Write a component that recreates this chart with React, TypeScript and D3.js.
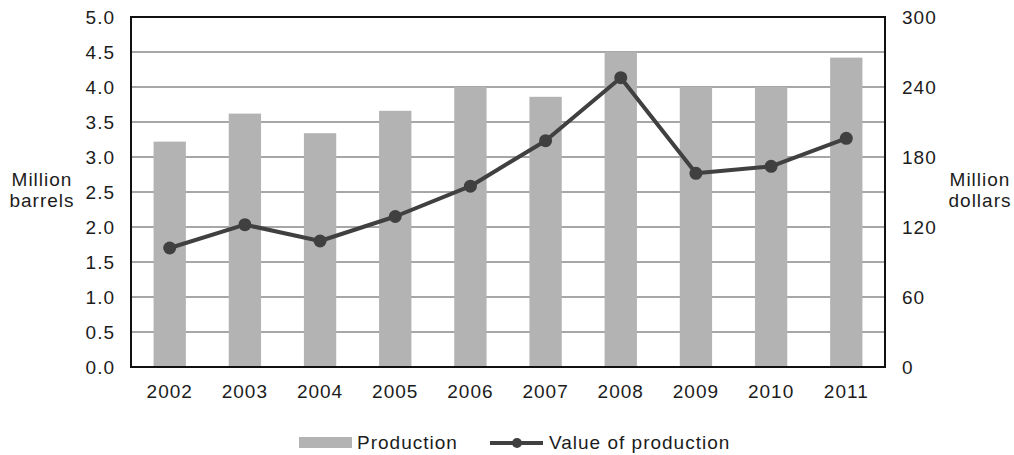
import React from "react";
import * as d3 from "d3";

const years = ["2002", "2003", "2004", "2005", "2006", "2007", "2008", "2009", "2010", "2011"];
const production = [3.22, 3.62, 3.34, 3.66, 4.0, 3.86, 4.5, 4.0, 4.0, 4.42];
const valueOfProduction = [102, 122, 108, 129, 155, 194, 248, 166, 172, 196];
const leftTicks = [0, 0.5, 1, 1.5, 2, 2.5, 3, 3.5, 4, 4.5, 5];
const rightTicks = [0, 60, 120, 180, 240, 300];

const W = 1014;
const H = 455;
const L = 131, R = 885, T = 17, B = 367;
const FONT = "'Liberation Sans', Arial, sans-serif";
const TXT = "#1c1c1c";

export default function App() {
  const x = d3.scaleBand<string>().domain(years).range([L, R]).paddingInner(0.57).paddingOuter(0.3);
  const yL = d3.scaleLinear().domain([0, 5]).range([B, T]);
  const yR = d3.scaleLinear().domain([0, 300]).range([B, T]);
  const cx = (y: string) => (x(y) as number) + x.bandwidth() / 2;
  const line = d3.line<number>().x((_, i) => cx(years[i])).y((d) => yR(d));
  const textStyle = { fontFamily: FONT, fontSize: 19, letterSpacing: 1, fill: TXT } as const;

  return (
    <svg width={W} height={H} style={{ position: "absolute", left: 0, top: 0, background: "#fff" }}>
      <rect x={0} y={0} width={W} height={H} fill="#fff" />
      {/* gridlines */}
      {leftTicks.slice(1, -1).map((t) => (
        <line key={"g" + t} x1={L} x2={R} y1={yL(t)} y2={yL(t)} stroke="#8a8a8a" strokeWidth={1.6} />
      ))}
      {/* bars */}
      {production.map((v, i) => (
        <rect key={"b" + i} x={x(years[i])} y={yL(v)} width={x.bandwidth()} height={yL(0) - yL(v)} fill="#b3b3b3" />
      ))}
      {/* frame */}
      <rect x={L} y={T} width={R - L} height={B - T} fill="none" stroke="#111" strokeWidth={2} />
      {/* line */}
      <path d={line(valueOfProduction) || ""} fill="none" stroke="#404040" strokeWidth={4} strokeLinejoin="round" />
      {valueOfProduction.map((v, i) => (
        <circle key={"c" + i} cx={cx(years[i])} cy={yR(v)} r={6.5} fill="#404040" />
      ))}
      {/* left ticks */}
      {leftTicks.map((t) => (
        <text key={"l" + t} x={115} y={yL(t)} dy="0.35em" textAnchor="end" style={textStyle}>
          {t.toFixed(1)}
        </text>
      ))}
      {/* right ticks */}
      {rightTicks.map((t) => (
        <text key={"r" + t} x={902} y={yR(t)} dy="0.35em" textAnchor="start" style={textStyle}>
          {t}
        </text>
      ))}
      {/* x labels */}
      {years.map((y) => (
        <text key={"x" + y} x={cx(y)} y={398} textAnchor="middle" style={textStyle}>
          {y}
        </text>
      ))}
      {/* axis titles */}
      <text x={42} y={186} textAnchor="middle" style={textStyle}>Million</text>
      <text x={42} y={207} textAnchor="middle" style={textStyle}>barrels</text>
      <text x={980} y={186} textAnchor="middle" style={textStyle}>Million</text>
      <text x={980} y={207} textAnchor="middle" style={textStyle}>dollars</text>
      {/* legend */}
      <rect x={299} y={437} width={53} height={11} fill="#b3b3b3" />
      <text x={357} y={449} style={textStyle}>Production</text>
      <line x1={490} x2={543} y1={443} y2={443} stroke="#404040" strokeWidth={4} />
      <circle cx={517} cy={443} r={5} fill="#404040" />
      <text x={549} y={449} style={textStyle}>Value of production</text>
    </svg>
  );
}
